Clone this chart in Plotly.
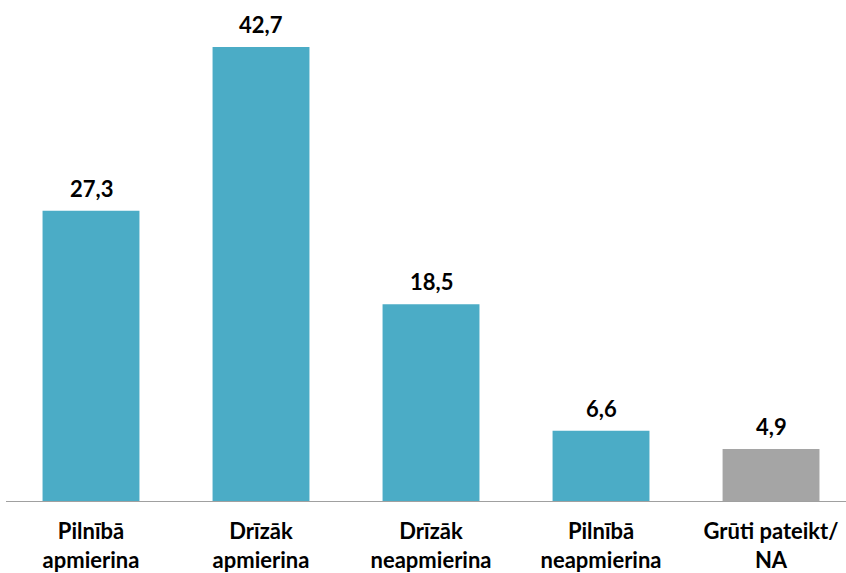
import plotly.graph_objects as go

categories = ["Pilnībā<br>apmierina", "Drīzāk<br>apmierina", "Drīzāk<br>neapmierina",
              "Pilnībā<br>neapmierina", "Grūti pateikt/<br>NA"]
values = [27.3, 42.7, 18.5, 6.6, 4.9]
colors = ["#4BACC6", "#4BACC6", "#4BACC6", "#4BACC6", "#A5A5A5"]
value_labels = [f"{v:.1f}".replace(".", ",") for v in values]

FONT = "Lato, 'Open Sans', sans-serif"

fig = go.Figure()
fig.add_trace(go.Bar(
    x=categories, y=values,
    marker=dict(color=colors, line=dict(width=0)),
    hoverinfo="skip",
))

for c, v, t in zip(categories, values, value_labels):
    fig.add_annotation(
        x=c, y=v, text=t, showarrow=False, yanchor="bottom", yshift=7,
        font=dict(family=FONT, size=22, color="#000000", weight="bold"),
    )

fig.update_layout(
    width=846, height=573,
    margin=dict(l=6, r=0, t=0, b=72, autoexpand=False),
    paper_bgcolor="white", plot_bgcolor="white",
    bargap=0.43,
    showlegend=False,
    xaxis=dict(
        type="category",
        range=[-0.5, 4.441],
        showline=True, linecolor="#A0A0A0", linewidth=1,
        showgrid=False, zeroline=False, ticks="",
        tickfont=dict(family=FONT, size=22, color="#000000", weight="bold"),
        ticklabelstandoff=11,
        automargin=False,
    ),
    yaxis=dict(
        range=[0, 47.13],
        visible=False, showgrid=False, zeroline=False,
    ),
)

fig.write_html(
    "out.html",
    config={"displayModeBar": False},
    post_script="document.body.style.margin='0';document.body.style.overflow='hidden';",
)
